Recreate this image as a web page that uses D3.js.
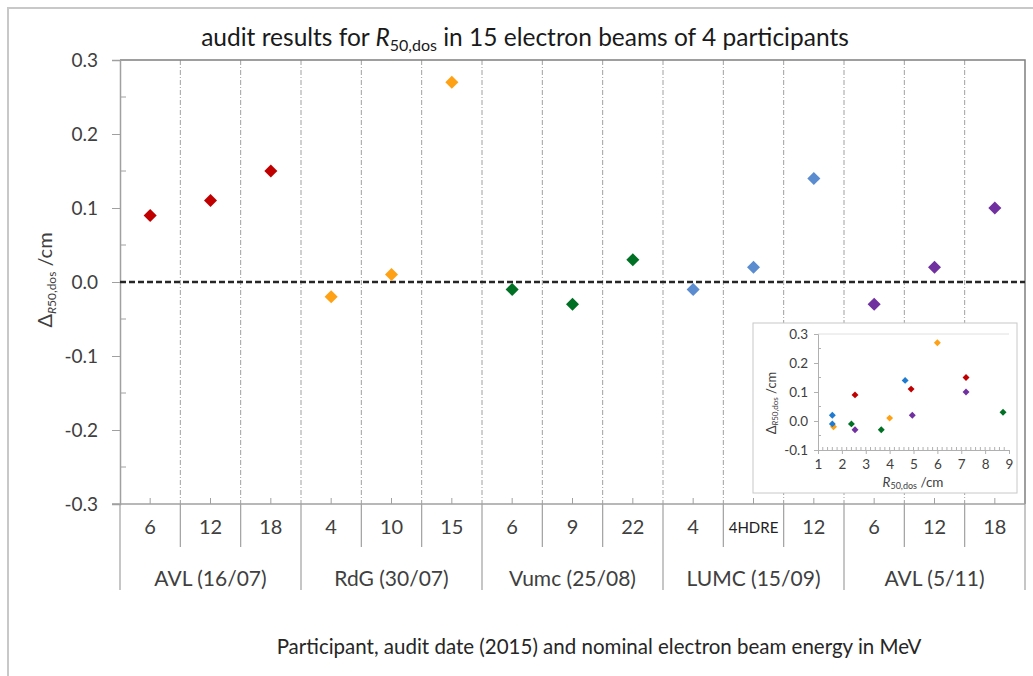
<!DOCTYPE html>
<html><head><meta charset="utf-8">
<script src="https://cdn.jsdelivr.net/npm/d3@7"></script>
<style>body{margin:0;background:#fff}svg{display:block}text{font-family:Lato,"Open Sans",sans-serif}</style>
</head><body>
<script>
// ---- data ----
const groups = ["AVL (16/07)", "RdG (30/07)", "Vumc (25/08)", "LUMC (15/09)", "AVL (5/11)"];
const energies = ["6","12","18","4","10","15","6","9","22","4","4HDRE","12","6","12","18"];
const groupOf = [0,0,0,1,1,1,2,2,2,3,3,3,4,4,4];
const deltas = [0.09,0.11,0.15,-0.02,0.01,0.27,-0.01,-0.03,0.03,-0.01,0.02,0.14,-0.03,0.02,0.10];
const insetR50 = [2.55,4.9,7.2,1.65,4.0,6.0,2.4,3.65,8.75,1.6,1.6,4.65,2.55,4.95,7.2];
const yTicks = [-0.3,-0.2,-0.1,0.0,0.1,0.2,0.3];
const insetYTicks = [-0.1,0.0,0.1,0.2,0.3];
const insetXTicks = [1,2,3,4,5,6,7,8,9];
const groupColors = ["#C00000","#FFA114","#007024","#5A8CCF","#7030A0"];
const insetColors = ["#C00000","#FFA114","#007024","#1F7BD0","#7030A0"];

const fmt1 = d => d3.format(".1f")(d).replace("\u2212", "-");

const W = 1033, H = 676;
const svg = d3.select("body").append("svg").attr("width", W).attr("height", H);

// outer frame
svg.append("path").attr("d", `M8,${H} V8 H${W}`).attr("fill","none").attr("stroke","#c8c8c8").attr("stroke-width",2);

const L = 120, R = 1025, T = 60, B = 504;
const idx = d3.range(energies.length);
const x = d3.scaleBand().domain(idx).range([L, R]);
const xg = d3.scaleBand().domain(groups).range([L, R]);
const y = d3.scaleLinear().domain([-0.3, 0.3]).range([B, T]);

// vertical gridlines (category boundaries)
svg.append("g").selectAll("line").data(idx.slice(1)).join("line")
  .attr("x1", d => x(d)).attr("x2", d => x(d)).attr("y1", T).attr("y2", B)
  .attr("stroke", "#a0a0a0").attr("stroke-width", 1).attr("stroke-dasharray", "5,2,1,2");

// plot border top & right
svg.append("path").attr("d", `M${L},${T} H${R} V${B}`).attr("fill","none").attr("stroke","#7f7f7f").attr("stroke-width",1.5);

// y axis
const yAxis = svg.append("g").attr("transform", `translate(${L},0)`)
  .call(d3.axisLeft(y).tickValues(yTicks).tickFormat(fmt1).tickSize(8).tickPadding(14));
yAxis.select(".domain").attr("stroke", "#a0a0a0").attr("stroke-width", 1.5);
yAxis.selectAll(".tick line").attr("stroke", "#a0a0a0");
yAxis.selectAll("text").attr("font-size", 19).attr("fill", "#404040").attr("font-family","Lato");
// minor y ticks
svg.append("g").selectAll("line").data(d3.range(-0.25, 0.3, 0.1)).join("line")
  .attr("x1", L).attr("x2", L + 6).attr("y1", d => y(d)).attr("y2", d => y(d)).attr("stroke", "#a0a0a0");

// x axis line and table
svg.append("line").attr("x1", 112).attr("x2", R).attr("y1", B).attr("y2", B).attr("stroke","#a0a0a0").attr("stroke-width",1.5);
svg.append("g").selectAll("line").data(idx).join("line")
  .attr("x1", d => x(d) + x.bandwidth()/2).attr("x2", d => x(d) + x.bandwidth()/2)
  .attr("y1", B).attr("y2", B - 6).attr("stroke", "#a0a0a0");
// category separators
svg.append("g").selectAll("line").data(idx.filter(i => i % 3 !== 0)).join("line")
  .attr("x1", d => x(d)).attr("x2", d => x(d)).attr("y1", B).attr("y2", 547)
  .attr("stroke", "#a0a0a0").attr("stroke-width", 1.2);
// group separators
svg.append("g").selectAll("line").data(groups.map(g => xg(g)).concat([R])).join("line")
  .attr("x1", d => d).attr("x2", d => d).attr("y1", B).attr("y2", 590)
  .attr("stroke", "#a0a0a0").attr("stroke-width", 1.2);
// energy labels
svg.append("g").selectAll("text").data(idx).join("text")
  .attr("x", d => x(d) + x.bandwidth()/2).attr("y", d => energies[d].length > 3 ? 533 : 534)
  .attr("text-anchor", "middle")
  .attr("font-size", d => energies[d].length > 3 ? 15 : 20)
  .attr("font-family", d => energies[d].length > 3 ? "Liberation Sans, Arial, sans-serif" : "Lato")
  .attr("fill", d => energies[d].length > 3 ? "#222" : "#404040")
  .text(d => energies[d]);
// group labels
svg.append("g").selectAll("text").data(groups).join("text")
  .attr("x", d => xg(d) + xg.bandwidth()/2).attr("y", 586)
  .attr("text-anchor", "middle").attr("font-size", 21).attr("fill", "#404040").text(d => d);

// zero line
svg.append("line").attr("x1", L).attr("x2", R).attr("y1", y(0)).attr("y2", y(0))
  .attr("stroke", "#262626").attr("stroke-width", 2.5).attr("stroke-dasharray", "6,3");

// markers
const diamond = s => d3.symbol().type(d3.symbolSquare).size(s)();
svg.append("g").selectAll("path").data(idx).join("path")
  .attr("d", diamond(85))
  .attr("transform", d => `translate(${x(d) + x.bandwidth()/2},${y(deltas[d])}) rotate(45)`)
  .attr("fill", d => groupColors[groupOf[d]]);

// title
const title = svg.append("text").attr("x", 525).attr("y", 46).attr("text-anchor", "middle")
  .attr("font-size", 24.5).attr("fill", "#1a1a1a");
title.append("tspan").text("audit results for ");
title.append("tspan").attr("font-style", "italic").text("R");
title.append("tspan").attr("font-size", 16).attr("dy", 5).text("50,dos");
title.append("tspan").attr("dy", -5).text(" in 15 electron beams of 4 participants");

// y label
const yl = svg.append("text").attr("transform", `translate(52,${(T+B)/2 - 2}) rotate(-90)`)
  .attr("text-anchor", "middle").attr("font-size", 20).attr("fill", "#404040");
yl.append("tspan").text("Δ");
yl.append("tspan").attr("font-size", 12).attr("dy", 4).attr("font-style","italic").text("R");
yl.append("tspan").attr("font-size", 12).text("50,dos");
yl.append("tspan").attr("dy", -4).text(" /cm");

// x title
svg.append("text").attr("x", 599).attr("y", 654).attr("text-anchor", "middle")
  .attr("font-size", 20.5).attr("fill", "#262626")
  .text("Participant, audit date (2015) and nominal electron beam energy in MeV");

// ---- inset ----
const iL = 818, iR = 1009, iT = 334, iB = 450;
svg.append("rect").attr("x", 753).attr("y", 323).attr("width", 264).attr("height", 170)
  .attr("fill", "#fff").attr("stroke", "#c8c8c8").attr("stroke-width", 1);
const ix = d3.scaleLinear().domain([1, 9]).range([iL, iR]);
const iy = d3.scaleLinear().domain([-0.1, 0.3]).range([iB, iT]);
svg.append("line").attr("x1", iL).attr("x2", iR).attr("y1", iy(0.3)).attr("y2", iy(0.3)).attr("stroke", "#e0e0e0");
const iyAxis = svg.append("g").attr("transform", `translate(${iL},0)`)
  .call(d3.axisLeft(iy).tickValues(insetYTicks).tickFormat(fmt1).tickSize(4).tickPadding(6));
iyAxis.select(".domain").attr("stroke", "#b0b0b0");
iyAxis.selectAll(".tick line").attr("stroke", "#b0b0b0");
iyAxis.selectAll("text").attr("font-size", 13.5).attr("fill", "#404040").attr("font-family","Lato");
svg.append("g").selectAll("line").data(d3.range(-0.05, 0.3, 0.1)).join("line")
  .attr("x1", iL).attr("x2", iL + 3).attr("y1", d => iy(d)).attr("y2", d => iy(d)).attr("stroke", "#b0b0b0");
const ixAxis = svg.append("g").attr("transform", `translate(0,${iB})`)
  .call(d3.axisBottom(ix).tickValues(insetXTicks).tickFormat(d3.format("d")).tickSize(4).tickPadding(5));
ixAxis.select(".domain").attr("stroke", "#b0b0b0");
ixAxis.selectAll(".tick line").attr("stroke", "#b0b0b0");
ixAxis.selectAll("text").attr("font-size", 13.5).attr("fill", "#404040").attr("font-family","Lato");
svg.append("g").selectAll("line").data(d3.range(1.2, 9, 0.2)).join("line")
  .attr("x1", d => ix(d)).attr("x2", d => ix(d)).attr("y1", iB).attr("y2", iB - 3).attr("stroke", "#b0b0b0");
svg.append("g").selectAll("path").data(idx).join("path")
  .attr("d", diamond(24))
  .attr("transform", d => `translate(${ix(insetR50[d])},${iy(deltas[d])}) rotate(45)`)
  .attr("fill", d => insetColors[groupOf[d]]);
const ixl = svg.append("text").attr("x", 913).attr("y", 487).attr("text-anchor", "middle")
  .attr("font-size", 13.5).attr("fill", "#404040");
ixl.append("tspan").attr("font-style", "italic").text("R");
ixl.append("tspan").attr("font-size", 9).attr("dy", 2).text("50,dos");
ixl.append("tspan").attr("dy", -2).text(" /cm");
const iyl = svg.append("text").attr("transform", `translate(776,403) rotate(-90)`)
  .attr("text-anchor", "middle").attr("font-size", 13).attr("fill", "#404040");
iyl.append("tspan").text("Δ");
iyl.append("tspan").attr("font-size", 8).attr("dy", 2).attr("font-style","italic").text("R");
iyl.append("tspan").attr("font-size", 8).text("50,dos");
iyl.append("tspan").attr("dy", -2).text(" /cm");
</script>
</body></html>
